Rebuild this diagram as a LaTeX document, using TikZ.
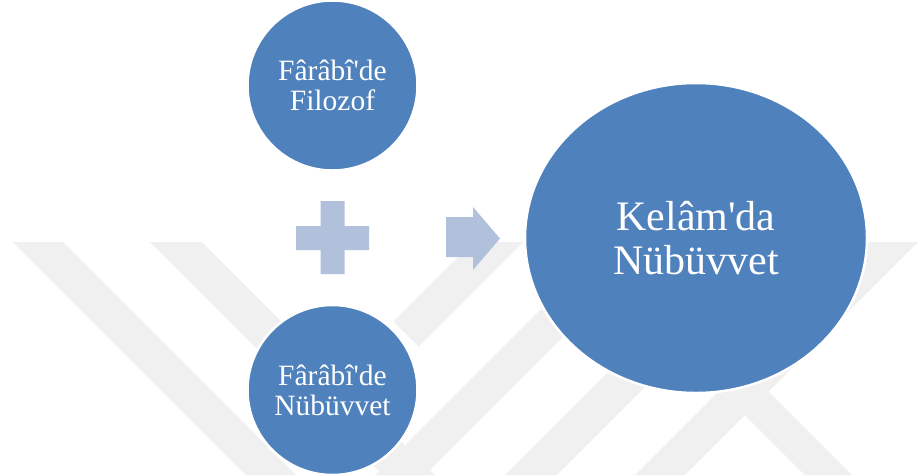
\documentclass[tikz,border=0pt]{standalone}
\usepackage{fontspec}
\newfontfamily\libserif{Liberation Serif}
\usetikzlibrary{shapes.geometric}
\definecolor{circblue}{HTML}{4F81BD}
\definecolor{lightblue}{HTML}{B2C1DB}
\definecolor{wmgray}{HTML}{F0F0F0}
\tikzset{
  smallcirc/.style={circle, fill=circblue, draw=white, line width=2.5pt,
    minimum size=170pt, inner sep=0pt, text=white, align=center,
    font=\libserif\fontsize{29.5}{30}\selectfont},
  bigcirc/.style={ellipse, fill=circblue, draw=white, line width=2.5pt,
    minimum width=342pt, minimum height=310pt, inner sep=0pt, text=white, align=center,
    font=\libserif\fontsize{42}{44}\selectfont},
  wmband/.style={fill=wmgray},
  symbolshape/.style={fill=lightblue}
}
\begin{document}
\begin{tikzpicture}[x=1pt,y=-1pt]
\useasboundingbox (0,0) rectangle (918,475);
\fill[white] (0,0) rectangle (918,475);
% faint watermark bands
\fill[wmband] (13,242) -- (63,242) -- (296,475) -- (246,475) -- cycle;
\fill[wmband] (150,242) -- (202,242) -- (435,475) -- (383,475) -- cycle;
\fill[wmband] (473,242) -- (523,242) -- (418.5,346.5) -- (393.5,321.5) -- cycle;
\fill[wmband] (608,242) -- (658,242) -- (425,475) -- (375,475) -- cycle;
\fill[wmband] (738,242) -- (790,242) -- (557,475) -- (505,475) -- cycle;
\fill[wmband] (868,242) -- (918,242) -- (685,475) -- (635,475) -- cycle;
\fill[wmband] (720,390) -- (743.5,366.5) -- (852,475) -- (805,475) -- cycle;
% circles
\node[smallcirc] (filozof) at (332.5,85.5) {Fârâbî'de\\Filozof};
\node[smallcirc] (farabinub) at (332.5,390) {Fârâbî'de\\Nübüvvet};
\node[bigcirc] (kelam) at (696,238) {Kelâm'da\\Nübüvvet};
% plus sign
\fill[symbolshape] (320.5,201) -- (344.5,201) -- (344.5,226) -- (369,226) -- (369,250)
  -- (344.5,250) -- (344.5,274) -- (320.5,274) -- (320.5,250) -- (296,250)
  -- (296,226) -- (320.5,226) -- cycle;
% block arrow
\fill[symbolshape] (446,217) -- (473,217) -- (473,207) -- (500,238.5) -- (473,270)
  -- (473,257) -- (446,257) -- cycle;
\end{tikzpicture}
\end{document}
